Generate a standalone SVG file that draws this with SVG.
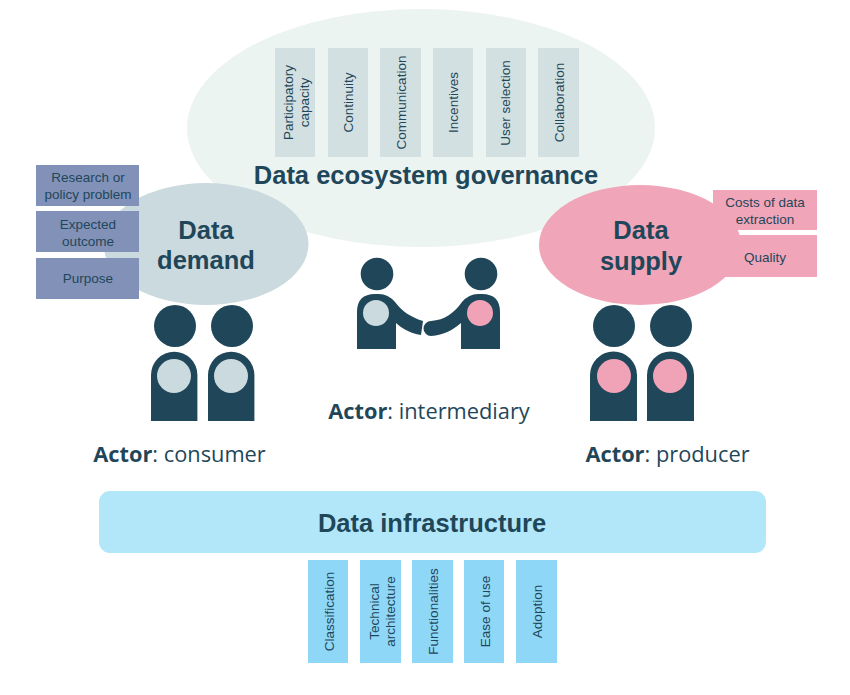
<svg xmlns="http://www.w3.org/2000/svg" width="850" height="695" viewBox="0 0 850 695">
<style>
text{font-family:"Liberation Sans",Arial,sans-serif;fill:#1f4759;text-anchor:middle}
.dark{fill:#1f4759}
.s{font-size:13.5px}
.h{font-size:25.500px;font-weight:bold}
.a{font-family:"Open Sans","Noto Sans",sans-serif;font-size:21.800px}
.a tspan{font-weight:bold}
.gov{fill:#d2e0e1}
.inf{fill:#8fd7f7}
.dem{fill:#8291b8}
.sup{fill:#f1a5b8}
.cb{fill:#cbdadf}
.cp{fill:#f0a2b6}
</style>
<g id="governance">
<ellipse cx="421" cy="128" rx="234" ry="119" fill="#ecf4f1"/>
<text x="426" y="184" class="h">Data ecosystem governance</text>
</g>
<g id="gov-items">
<rect class="gov" x="275" y="48" width="40" height="109"/>
<text class="s" transform="translate(293,102.500) rotate(-90)">Participatory</text>
<text class="s" transform="translate(309,102.500) rotate(-90)">capacity</text>
<rect class="gov" x="328" y="48" width="40" height="109"/>
<text class="s" transform="translate(353,102.500) rotate(-90)">Continuity</text>
<rect class="gov" x="380" y="48" width="41" height="109"/>
<text class="s" transform="translate(406,102.500) rotate(-90)">Communication</text>
<rect class="gov" x="433" y="48" width="40" height="109"/>
<text class="s" transform="translate(458,102.500) rotate(-90)">Incentives</text>
<rect class="gov" x="486" y="48" width="40" height="109"/>
<text class="s" transform="translate(510,103) rotate(-90)">User selection</text>
<rect class="gov" x="538" y="48" width="41" height="109"/>
<text class="s" transform="translate(564,102.500) rotate(-90)">Collaboration</text>
</g>
<g id="demand">
<ellipse cx="206" cy="244" rx="102.500" ry="61" fill="#cbdadf"/>
<text x="206" y="239" class="h">Data</text>
<text x="206" y="269" class="h">demand</text>
</g>
<g id="demand-items">
<rect class="dem" x="36" y="165" width="103" height="41"/>
<text class="s" x="88" y="182">Research or</text>
<text class="s" x="88" y="199">policy problem</text>
<rect class="dem" x="36" y="211" width="103" height="41"/>
<text class="s" x="88" y="229">Expected</text>
<text class="s" x="88" y="246">outcome</text>
<rect class="dem" x="36" y="258" width="103" height="41"/>
<text class="s" x="88" y="283">Purpose</text>
</g>
<g id="supply">
<ellipse cx="640" cy="245" rx="101" ry="60" fill="#f1a5b8"/>
<text x="641" y="239" class="h">Data</text>
<text x="641" y="270" class="h">supply</text>
</g>
<g id="supply-items">
<rect class="sup" x="713" y="190" width="104" height="40"/>
<text class="s" x="765" y="207">Costs of data</text>
<text class="s" x="765" y="224">extraction</text>
<rect class="sup" x="713" y="235" width="104" height="42"/>
<text class="s" x="765" y="262">Quality</text>
</g>
<g id="consumers">
<circle class="dark" cx="175" cy="326" r="21"/>
<path class="dark" d="M151 421V375a23.200 23.200 0 0 1 46.400 0V421Z"/>
<circle class="cb" cx="174" cy="376" r="17"/>
<circle class="dark" cx="232" cy="326" r="21"/>
<path class="dark" d="M208 421V375a23.200 23.200 0 0 1 46.400 0V421Z"/>
<circle class="cb" cx="231" cy="376" r="17"/>
<text class="a" x="179.500" y="462"><tspan>Actor</tspan>: consumer</text>
</g>
<g id="intermediary">
<circle class="dark" cx="377" cy="274" r="16.300"/>
<path class="dark" d="M357 349V312q0-18 18-18h4q9 0 16 8c7 9 15 15 28 19l-2 14c-11-2-18-6-25-12V349Z"/>
<circle class="cb" cx="376" cy="313" r="13"/>
<circle class="dark" cx="481" cy="274" r="16.300"/>
<path class="dark" d="M500 349V312q0-18-18-18h-4q-9 0-16 8c-8 11-17 18-31 19a7.500 7.500 0 0 0 0 15c13-1 22-6 30-13V349Z"/>
<circle class="cp" cx="480" cy="313" r="13"/>
<text class="a" x="429" y="419"><tspan>Actor</tspan>: intermediary</text>
</g>
<g id="producers">
<circle class="dark" cx="614" cy="326" r="21"/>
<path class="dark" d="M590 421V375a23.500 23.500 0 0 1 47 0V421Z"/>
<circle class="cp" cx="614" cy="376" r="17"/>
<circle class="dark" cx="671" cy="326" r="21"/>
<path class="dark" d="M647 421V375a23.500 23.500 0 0 1 47 0V421Z"/>
<circle class="cp" cx="670" cy="376" r="17"/>
<text class="a" x="667.500" y="462"><tspan>Actor</tspan>: producer</text>
</g>
<g id="infrastructure">
<rect x="99" y="491" width="667" height="62" rx="11" fill="#b2e7fa"/>
<text x="432" y="532" class="h">Data infrastructure</text>
</g>
<g id="infra-items">
<rect class="inf" x="308" y="560" width="40" height="103"/>
<text class="s" transform="translate(334,611.500) rotate(-90)">Classification</text>
<rect class="inf" x="360" y="560" width="41" height="103"/>
<text class="s" transform="translate(379,611.500) rotate(-90)">Technical</text>
<text class="s" transform="translate(395,611.500) rotate(-90)">architecture</text>
<rect class="inf" x="412" y="560" width="41" height="103"/>
<text class="s" transform="translate(438,611.500) rotate(-90)">Functionalities</text>
<rect class="inf" x="464" y="560" width="40" height="103"/>
<text class="s" transform="translate(490,611.500) rotate(-90)">Ease of use</text>
<rect class="inf" x="516" y="560" width="41" height="103"/>
<text class="s" transform="translate(542,611.500) rotate(-90)">Adoption</text>
</g>
<g id="connectors"/>
</svg>
